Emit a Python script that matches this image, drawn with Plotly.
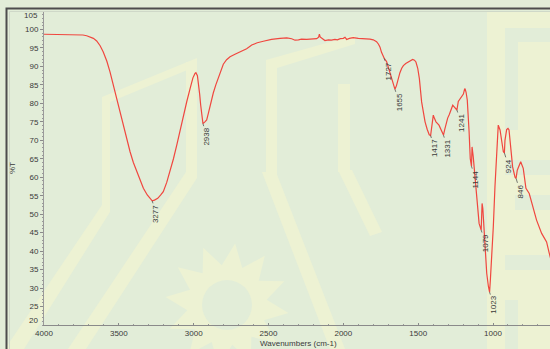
import math
import plotly.graph_objects as go

# FTIR transmittance spectrum
wavenumber = [
    4000, 3900, 3800, 3740, 3715, 3690, 3670, 3648, 3625, 3604, 3580, 3559, 3536, 3514,
    3492, 3470, 3448, 3425, 3403, 3381, 3358, 3336, 3310, 3290, 3277, 3262, 3240, 3220,
    3203, 3180, 3158, 3135, 3113, 3091, 3069, 3046, 3024, 3005, 2991, 2985, 2975, 2969,
    2960, 2953, 2945, 2938, 2925, 2913, 2902, 2891, 2880, 2869, 2852, 2835, 2818, 2802,
    2780, 2757, 2724, 2691, 2668, 2646, 2612, 2575, 2535, 2480, 2423, 2378, 2345, 2323,
    2300, 2280, 2245, 2210, 2178, 2165, 2160, 2155, 2145, 2130, 2123, 2100, 2080, 2056,
    2040, 2020, 2000, 1989, 1978, 1960, 1934, 1900, 1870, 1840, 1822, 1800, 1778, 1765,
    1755, 1745, 1733, 1727, 1711, 1700, 1688, 1672, 1660, 1655, 1645, 1633, 1622, 1610,
    1599, 1583, 1566, 1550, 1537, 1525, 1515, 1503, 1492, 1477, 1465, 1454, 1440, 1426,
    1417, 1410, 1404, 1399, 1390, 1381, 1361, 1348, 1336, 1331, 1322, 1314, 1303, 1292,
    1280, 1269, 1258, 1247, 1241, 1232, 1220, 1209, 1198, 1190, 1187, 1180, 1172, 1160,
    1152, 1144, 1140, 1132, 1120, 1108, 1093, 1079, 1073, 1068, 1062, 1053, 1042, 1031,
    1023, 1018, 1009, 998, 987, 975, 965, 953, 942, 931, 924, 920, 909, 900, 893, 882,
    869, 853, 846, 838, 815, 798, 780, 758, 731, 709, 675, 642, 624, 615,
]
transmittance = [
    98.7, 98.7, 98.6, 98.5, 98.3, 98.0, 97.6, 96.9, 95.6, 93.9, 91.4, 88.5, 84.8, 80.9,
    77.4, 74.1, 70.4, 66.9, 64.0, 61.5, 59.1, 57.0, 55.2, 54.1, 53.6, 53.8, 54.3, 55.2,
    56.1, 58.6, 61.5, 65.0, 68.7, 72.8, 76.8, 80.5, 84.0, 86.9, 88.1, 88.3, 87.5, 85.8,
    82.5, 79.5, 76.0, 74.5, 75.0, 75.5, 77.3, 79.3, 81.0, 82.8, 85.0, 87.0, 89.0, 90.6,
    91.8, 92.6, 93.3, 93.9, 94.3, 94.8, 95.8, 96.4, 96.8, 97.3, 97.6, 97.7, 97.5, 97.1,
    97.2, 97.4, 97.3, 97.4, 97.5, 97.9, 98.7, 98.0, 97.6, 97.2, 97.0, 97.2, 97.1, 97.3,
    97.2, 97.5, 97.6, 97.9, 97.3, 97.6, 97.8, 97.6, 97.6, 97.5, 97.4, 97.2, 96.7, 96.0,
    95.2, 93.8, 92.4, 92.2, 91.3, 89.8, 87.8, 85.5, 84.0, 83.8, 84.8, 86.7, 88.3, 89.5,
    90.2, 90.8, 91.2, 91.6, 91.9, 91.7, 91.2, 89.5, 86.7, 80.4, 77.5, 75.0, 73.0, 71.5,
    71.3, 73.6, 75.5, 76.8, 75.8, 75.0, 74.1, 73.0, 71.6, 71.4, 73.0, 74.6, 76.0, 77.0,
    78.5, 79.5, 79.0, 78.3, 78.2, 80.5, 81.2, 81.5, 82.5, 83.8, 84.0, 83.0, 80.9, 72.5,
    65.0, 63.0, 68.2, 65.5, 59.2, 54.7, 47.5, 45.7, 52.9, 51.5, 46.5, 39.4, 34.0, 30.5,
    28.9, 32.0, 38.0, 46.6, 57.4, 68.2, 74.1, 72.8, 69.2, 66.9, 66.6, 70.0, 72.9, 73.2,
    72.8, 67.3, 62.8, 60.0, 59.7, 61.9, 64.2, 62.4, 57.0, 55.6, 51.6, 48.4, 44.8, 42.5,
    39.4, 38.0,
]

# labelled absorption peaks
peak_wn = [3277, 2938, 1727, 1655, 1417, 1331, 1241, 1144, 1079, 1023, 924, 846]

x_ticks = [4000, 3500, 3000, 2500, 2000, 1500, 1000]
y_ticks = [25, 30, 35, 40, 45, 50, 55, 60, 65, 70, 75, 80, 85, 90, 95, 100]

BG = "#e2edd8"
WM = "#edf2d3"
TXT = "#3a3a3a"
FONT = "Liberation Sans"

# layout geometry (pixels)
W, H = 550, 349
ML, MR, MT, MB = 44, 0, 11, 24
PW, PH = W - ML - MR, H - MT - MB


def px(x):
    return (x - ML) / PW


def py(y):
    return (H - MB - y) / PH


def poly(points):
    return "M " + " L ".join(f"{px(a):.4f},{py(b):.4f}" for a, b in points) + " Z"


fig = go.Figure()

fig.add_trace(go.Scatter(
    x=wavenumber, y=transmittance, mode="lines",
    line=dict(color="#f0473f", width=1.2),
    hoverinfo="skip", showlegend=False,
))

# faint background emblem
emblem = [
    [(5, 349), (24, 349), (110, 212), (110, 102), (197, 66), (197, 58), (102, 97), (102, 205)],
    [(68, 349), (86, 349), (197, 178), (197, 62), (186, 62), (186, 172)],
    [(262, 172), (276, 172), (345, 349), (330, 349)],
    [(266, 60), (277, 60), (277, 175), (266, 175)],
    [(266, 60), (355, 35), (355, 44), (277, 68)],
    [(338, 84), (350, 84), (350, 172), (338, 172)],
    [(338, 170), (352, 170), (382, 232), (370, 236)],
    [(487, 11), (550, 11), (550, 349), (487, 349)],
]
shapes = []
for pts in emblem:
    shapes.append(dict(type="path", xref="paper", yref="paper", path=poly(pts),
                       fillcolor=WM, line=dict(width=0), layer="below"))
# sun-like badge
star = []
cx, cy, r1, r2 = 227, 305, 62, 40
for k in range(24):
    r = r1 if k % 2 == 0 else r2
    a = math.pi * k / 12 + math.pi / 24
    star.append((cx + r * math.cos(a), cy + r * math.sin(a)))
shapes.append(dict(type="path", xref="paper", yref="paper", path=poly(star),
                   fillcolor=WM, line=dict(width=0), layer="below"))
shapes.append(dict(type="circle", xref="paper", yref="paper",
                   x0=px(cx - 25), x1=px(cx + 25), y0=py(cy + 25), y1=py(cy - 25),
                   fillcolor=BG, line=dict(width=0), layer="below"))
# emblem lettering on the right
for (x0, y0, x1, y1) in [(505, 28, 550, 42), (505, 42, 518, 130), (505, 160, 550, 175),
                         (515, 195, 550, 210), (505, 255, 550, 270), (505, 300, 518, 349)]:
    shapes.append(dict(type="rect", xref="paper", yref="paper",
                       x0=px(x0), x1=px(x1), y0=py(y1), y1=py(y0),
                       fillcolor=BG, line=dict(width=0), layer="below"))

# instrument frame
shapes.append(dict(type="path", xref="paper", yref="paper",
                   path=f"M {px(6.5)},{py(360)} L {px(6.5)},{py(8.5)} L {px(560)},{py(8.5)}",
                   line=dict(color="#4d4d4d", width=2)))
shapes.append(dict(type="path", xref="paper", yref="paper",
                   path=f"M {px(9.5)},{py(360)} L {px(9.5)},{py(11.5)} L {px(560)},{py(11.5)}",
                   line=dict(color="#cfd8c8", width=1)))

annotations = []
for wn in peak_wn:
    t = transmittance[wavenumber.index(wn)]
    annotations.append(dict(
        x=wn, y=t, xref="x", yref="y", text=str(wn), textangle=-90,
        showarrow=True, arrowhead=0, arrowwidth=0.8, arrowcolor="#555555",
        ax=4, ay=13, font=dict(family=FONT, size=8, color=TXT),
    ))

# end labels nudged inside the axis span
annotations.append(dict(x=px(40), y=py(15.5), xref="paper", yref="paper", text="105",
                        showarrow=False, xanchor="right", yanchor="middle",
                        font=dict(family=FONT, size=8, color=TXT)))
annotations.append(dict(x=px(40), y=py(320), xref="paper", yref="paper", text="20",
                        showarrow=False, xanchor="right", yanchor="middle",
                        font=dict(family=FONT, size=8, color=TXT)))
annotations.append(dict(x=px(298), y=py(343.5), xref="paper", yref="paper",
                        text="Wavenumbers (cm-1)", showarrow=False,
                        xanchor="center", yanchor="middle",
                        font=dict(family=FONT, size=8, color=TXT)))
annotations.append(dict(x=px(12), y=py(168), xref="paper", yref="paper", text="%T",
                        textangle=-90, showarrow=False,
                        xanchor="center", yanchor="middle",
                        font=dict(family=FONT, size=8, color=TXT)))

fig.update_layout(
    width=W, height=H,
    margin=dict(l=ML, r=MR, t=MT, b=MB),
    paper_bgcolor=BG, plot_bgcolor="rgba(0,0,0,0)",
    shapes=shapes, annotations=annotations,
    font=dict(family=FONT, size=8, color=TXT),
    xaxis=dict(
        range=[4000, 4000 - PW / 0.14967], autorange=False,
        tickvals=x_ticks, ticktext=[str(v) for v in x_ticks],
        showgrid=False, zeroline=False,
        showline=True, linecolor="#8a8a8a", linewidth=1,
        ticks="inside", ticklen=2, tickcolor="#8a8a8a",
        minor=dict(dtick=100, ticks="inside", ticklen=1.5, tickcolor="#9a9a9a"),
        tickfont=dict(family=FONT, size=8, color=TXT),
    ),
    yaxis=dict(
        range=[20, 105], autorange=False,
        tickvals=y_ticks, ticktext=[str(v) for v in y_ticks],
        showgrid=False, zeroline=False,
        showline=True, linecolor="#9a9a9a", linewidth=1,
        ticks="outside", ticklen=3, tickcolor="#8a8a8a",
        minor=dict(dtick=1, ticks="outside", ticklen=1.5, tickcolor="#9a9a9a"),
        tickfont=dict(family=FONT, size=8, color=TXT),
    ),
)

fig.write_html("out.html")
